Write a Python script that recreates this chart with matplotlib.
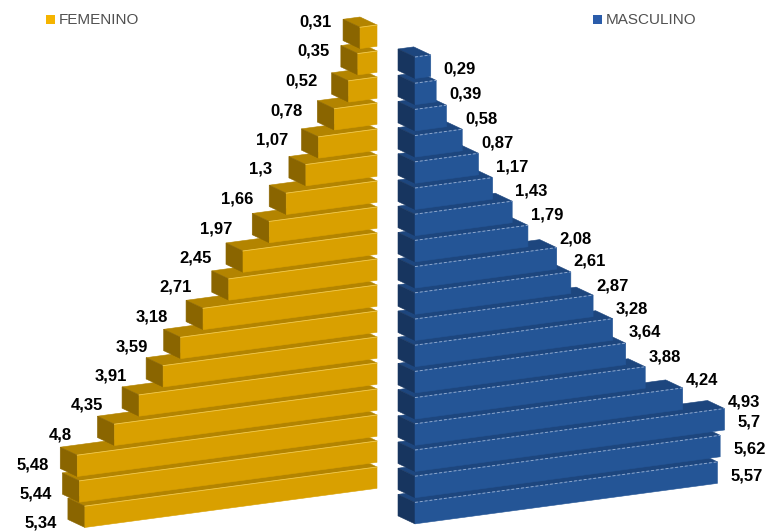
import numpy as np
import matplotlib.pyplot as plt
from matplotlib.patches import Polygon, Rectangle
from matplotlib.transforms import Affine2D

# Data (top row = oldest group), values in %
femenino = [0.31, 0.35, 0.52, 0.78, 1.07, 1.3, 1.66, 1.97, 2.45, 2.71,
            3.18, 3.59, 3.91, 4.35, 4.8, 5.48, 5.44, 5.34]
masculino = [0.29, 0.39, 0.58, 0.87, 1.17, 1.43, 1.79, 2.08, 2.61, 2.87,
             3.28, 3.64, 3.88, 4.24, 4.93, 5.7, 5.62, 5.57]
series_names = ["FEMENINO", "MASCULINO"]

# colours: front, top, side, legend
gold = ["#D9A000", "#B38400", "#8A6500", "#F5B400"]
blue = ["#245596", "#1D467E", "#17355F", "#2A5CAA"]

fig = plt.figure(figsize=(7.71, 5.32), dpi=100)
ax = fig.add_axes([0, 0, 1, 1])
ax.set_xlim(0, 771)
ax.set_ylim(532, 0)
ax.axis("off")

# fake 3D: sheared projection (value, row) -> pixels, plus depth offset
proj_f = Affine2D.from_values(54.7, -7.33, 0, 26.0, 377, 25)
proj_m = Affine2D.from_values(54.3, -7.28, 0, 26.2, 415, 57)
depth = np.array([-17.0, -8.0])
front_h = 0.82


def draw_bar(proj, x0, x1, row, cols, dashed):
    ftl, ftr, fbr, fbl = proj.transform([[x0, row], [x1, row],
                                         [x1, row + front_h], [x0, row + front_h]])
    top = [ftl, ftr, ftr + depth, ftl + depth]
    side = [ftl, fbl, fbl + depth, ftl + depth]
    front = [ftl, ftr, fbr, fbl]
    ax.add_patch(Polygon(top, closed=True, fc=cols[1], ec=cols[1], lw=0.4))
    ax.add_patch(Polygon(side, closed=True, fc=cols[2], ec=cols[2], lw=0.4))
    ax.add_patch(Polygon(front, closed=True, fc=cols[0], ec=cols[0], lw=0.4))
    if dashed:
        ax.plot([ftl[0], ftr[0]], [ftl[1], ftr[1]], color="#8EA8CE",
                lw=0.7, ls=(0, (3, 2)))
    else:
        ax.plot([ftl[0], ftr[0]], [ftl[1], ftr[1]], color="#EFC850", lw=0.6)
    return ftl, ftr, fbr, fbl


label_kw = dict(fontsize=12, fontweight="bold", color="black",
                family="Liberation Sans")

n = len(femenino)
# outer ends of each bar, used to keep labels clear of the bar below
f_left = [proj_f.transform([-v, r])[0] + depth[0] for r, v in enumerate(femenino)]
m_right = [proj_m.transform([v, r])[0] for r, v in enumerate(masculino)]

for row in range(n - 1, -1, -1):
    v = femenino[row]
    draw_bar(proj_f, -v, 0, row, gold, False)
    lx = f_left[row] - 11
    if row + 1 < n and f_left[row + 1] - 3 < lx:
        lx = (lx + f_left[row + 1] - 3) / 2
    ax.text(lx, 22 + 29.5 * row, str(v).replace(".", ","),
            ha="right", va="center", **label_kw)

for row in range(n - 1, -1, -1):
    v = masculino[row]
    ftl, ftr, fbr, fbl = draw_bar(proj_m, 0, v, row, blue, True)
    lx = m_right[row] + 13
    if row + 1 < n:
        lx = max(lx, m_right[row + 1] + 3)
    ax.text(lx, (ftr[1] + fbr[1]) / 2 + 3, str(v).replace(".", ","),
            ha="left", va="center", **label_kw)

# legend
for x, name, col in [(46, series_names[0], gold[3]), (593, series_names[1], blue[3])]:
    ax.add_patch(Rectangle((x, 15), 9, 9, fc=col, ec="none"))
    ax.text(x + 13, 20, name, fontsize=11, color="#505050",
            family="Liberation Sans", ha="left", va="center")

fig.savefig("out.png", dpi=100)
